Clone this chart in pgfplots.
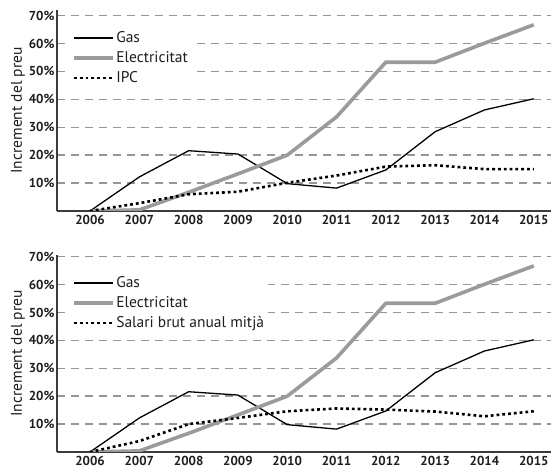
\documentclass[border=0pt]{standalone}
\usepackage{pgfplots}
\pgfplotsset{compat=1.18}
\usepackage{fontspec}
\setmainfont{PT Sans}
\definecolor{elec}{RGB}{155,155,155}
\definecolor{gridc}{RGB}{150,150,150}
\definecolor{axc}{RGB}{60,60,60}
\definecolor{txt}{RGB}{30,30,30}
\pgfplotsset{
 mystyle/.style={
  scale only axis, width=494pt,
  xmin=2005.33, xmax=2015.35, ymin=0,
  axis x line*=bottom, axis y line*=left,
  axis line style={axc, line width=1.8pt, -},
  xtick={2006,2007,2008,2009,2010,2011,2012,2013,2014,2015},
  xticklabels={2006,2007,2008,2009,2010,2011,2012,2013,2014,2015},
  ytick={10,20,30,40,50,60,70},
  yticklabels={10\%,20\%,30\%,40\%,50\%,60\%,70\%},
  major tick length=0pt,
  ymajorgrids, grid style={gridc, line width=1.4pt, dash pattern=on 8pt off 6pt},
  ticklabel style={font=\fontsize{13}{14}\selectfont\bfseries, text=txt},
  xticklabel style={yshift=-1pt},
  yticklabel style={xshift=1pt},
  ylabel={Increment del preu},
  ylabel style={font=\fontsize{15.5}{17}\selectfont, text=txt, yshift=-3pt},
  legend style={at={(axis description cs:0,1)}, anchor=north west, xshift=13pt, yshift=-18pt,
    draw=none, fill=white, inner sep=2pt, row sep=4.5pt,
    font=\fontsize{15.5}{17}\selectfont, text=txt,
    nodes={inner sep=1.5pt}},
  legend cell align=left,
  legend image code/.code={\draw[##1] (0pt,0pt) -- (39pt,0pt);},
  gasstyle/.style={black, line width=1.3pt},
  elstyle/.style={elec, line width=3.6pt},
  dotstyle/.style={black, line width=2.6pt, dash pattern=on 2.8pt off 3pt},
 }
}
\pgfplotstableread{
year gas elec ipc sal
2006 0 0 0 0
2007 12.2 0.4 2.8 3.9
2008 21.6 6.7 6.0 10.0
2009 20.4 13.3 6.9 12.2
2010 9.8 20.0 10.1 14.6
2011 8.2 33.7 12.7 15.6
2012 14.7 53.3 15.9 15.2
2013 28.4 53.3 16.4 14.5
2014 36.2 60.1 15.0 12.8
2015 40.2 66.7 15.0 14.6
}\datatable
\begin{document}
\begin{tikzpicture}[x=1pt,y=1pt]
\useasboundingbox (0,0) rectangle (551,473);
\begin{axis}[mystyle, at={(57pt,262pt)}, anchor=south west, height=201pt, ymax=72]
\addplot[gasstyle] table[x=year,y=gas]{\datatable};
\addlegendentry{Gas}
\addplot[elstyle] table[x=year,y=elec]{\datatable};
\addlegendentry{Electricitat}
\addplot[dotstyle] table[x=year,y=ipc]{\datatable};
\addlegendentry{IPC}
\end{axis}
\begin{axis}[mystyle, at={(57pt,21pt)}, anchor=south west, height=197pt, ymax=70.6]
\addplot[gasstyle] table[x=year,y=gas]{\datatable};
\addlegendentry{Gas}
\addplot[elstyle] table[x=year,y=elec]{\datatable};
\addlegendentry{Electricitat}
\addplot[dotstyle] table[x=year,y=sal]{\datatable};
\addlegendentry{Salari brut anual mitjà}
\end{axis}
\end{tikzpicture}
\end{document}
